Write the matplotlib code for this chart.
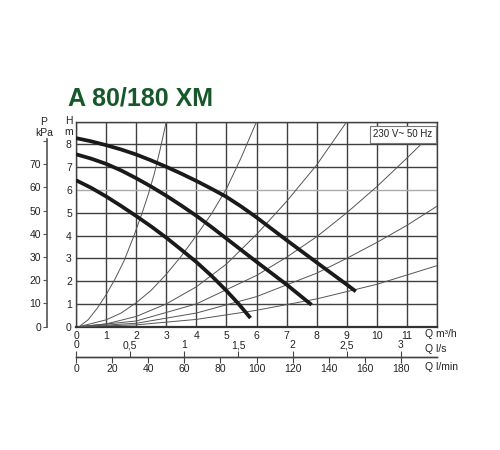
import matplotlib.pyplot as plt

plt.rcParams['font.family'] = ['Liberation Sans', 'DejaVu Sans']

# pump curves (Q m3/h, H m)
q_max = [0, 0.5, 1, 1.5, 2, 2.5, 3, 3.5, 4, 4.5, 5, 5.5, 6, 7, 8, 9, 9.3]
h_max = [8.28, 8.14, 7.97, 7.78, 7.56, 7.3, 7.02, 6.72, 6.4, 6.06, 5.7, 5.27, 4.8,
         3.8, 2.82, 1.85, 1.55]
q_mid = [0, 0.5, 1, 1.5, 2, 2.5, 3, 3.5, 4, 4.5, 5, 6, 7, 7.83]
h_mid = [7.57, 7.38, 7.15, 6.86, 6.52, 6.15, 5.75, 5.32, 4.87, 4.38, 3.87, 2.85,
         1.85, 0.96]
q_min = [0, 0.5, 1, 1.5, 2, 2.5, 3, 3.5, 4, 4.5, 5, 5.4, 5.8]
h_min = [6.43, 6.1, 5.72, 5.3, 4.86, 4.4, 3.91, 3.38, 2.84, 2.24, 1.58, 1.01, 0.38]

# system curves (thin lines)
sys_q = [
    [0.1, 0.4, 0.7, 1.0, 1.3, 1.6, 1.9, 2.2, 2.4, 2.6, 2.8, 3.0],
    [0.1, 1, 1.5, 2, 2.5, 3, 3.5, 4, 4.5, 5, 5.5, 6],
    [0.1, 1, 2, 3, 4, 5, 6, 7, 8, 9],
    [0.1, 2, 4, 6, 7, 8, 9, 10, 11, 11.5, 12],
    [0.1, 2, 4, 6, 8, 9, 10, 11, 12],
    [0.1, 2, 4, 6, 8, 10, 12],
]
sys_h = [
    [0, 0.3, 0.8, 1.4, 2.1, 2.9, 3.9, 5.0, 5.8, 6.7, 7.8, 9.0],
    [0, 0.3, 0.6, 1.05, 1.6, 2.3, 3.1, 4.0, 4.95, 6.05, 7.45, 9.0],
    [0, 0.12, 0.45, 1.0, 1.75, 2.75, 4.05, 5.5, 7.1, 9.0],
    [0, 0.25, 1.0, 2.25, 3.05, 3.95, 5.0, 6.15, 7.4, 8.05, 8.75],
    [0, 0.15, 0.6, 1.32, 2.35, 3.0, 3.7, 4.45, 5.29],
    [0, 0.08, 0.32, 0.72, 1.22, 1.86, 2.68],
]

h_ticks = list(range(10))
h_labels = [str(v) for v in range(9)] + ['']
q_ticks = list(range(13))
q_labels = [str(v) for v in range(12)] + ['']
p_ticks = list(range(0, 90, 10))
p_labels = [str(v) for v in range(0, 80, 10)] + ['']
ls_ticks = [0, 0.5, 1, 1.5, 2, 2.5, 3]
ls_labels = ['0', '0,5', '1', '1,5', '2', '2,5', '3']
lmin_ticks = list(range(0, 200, 20))

W, H = 500, 450
fig = plt.figure(figsize=(5, 4.5), dpi=100)
ax = fig.add_axes([76 / W, 1 - 326.7 / H, 361 / W, 205 / H])

grid_c = '#404040'
ax.set_xlim(0, 12)
ax.set_ylim(0, 9)
ax.set_xticks(q_ticks, q_labels)
ax.set_yticks(h_ticks, h_labels)
ax.tick_params(length=0, labelsize=7.5, colors='#222222', pad=3)
ax.grid(True, color=grid_c, lw=1.0)
for ln in ax.get_ygridlines():
    if abs(ln.get_ydata()[0] - 6) < 1e-6:
        ln.set_color('#aaaaaa')
for s in ax.spines.values():
    s.set_color(grid_c)
    s.set_linewidth(1.0)
ax.spines['bottom'].set_linewidth(1.6)
ax.spines['bottom'].set_color('#333333')

for q, h in zip(sys_q, sys_h):
    ax.plot(q, h, color='#555555', lw=0.7, zorder=3)
for q, h in [(q_max, h_max), (q_mid, h_mid), (q_min, h_min)]:
    ax.plot(q, h, color='#1a1a1a', lw=2.7, solid_capstyle='butt',
            solid_joinstyle='round', zorder=4)

ax.text(10.87, 8.46, '230 V~ 50 Hz', ha='center', va='center', fontsize=7,
        color='#222222', zorder=6,
        bbox=dict(facecolor='white', edgecolor='#777777', lw=0.8, pad=2.5))

# pressure axis in kPa
axp = ax.twinx()
axp.set_ylim(0, 9 * 9.81)
axp.yaxis.tick_left()
axp.set_yticks(p_ticks, p_labels)
for side in ['top', 'bottom', 'right']:
    axp.spines[side].set_visible(False)
axp.spines['left'].set_position(('outward', 21))
axp.spines['left'].set_bounds(0, 81)
axp.spines['left'].set_color('#555555')
axp.spines['left'].set_linewidth(1.2)
axp.tick_params(axis='y', length=3, width=0.8, color='#555555', labelsize=7.5,
                labelcolor='#222222', pad=1)

# flow axes in l/s and l/min
yfrac = -(357 - 326.7) / 205
ax_ls = ax.secondary_xaxis(yfrac, functions=(lambda q: q / 3.6, lambda s: s * 3.6))
ax_ls.set_alignment('top')
ax_ls.set_xticks(ls_ticks, ls_labels)
ax_ls.tick_params(length=4, width=0.8, color='#444444', labelsize=7.5,
                  labelcolor='#222222', pad=1)
ax_ls.spines['top'].set_color('#444444')
ax_ls.spines['top'].set_linewidth(1.0)

ax_lm = ax.secondary_xaxis(yfrac, functions=(lambda q: q * 1000 / 60, lambda m: m * 60 / 1000))
ax_lm.set_xticks(lmin_ticks)
ax_lm.tick_params(length=4, width=0.8, color='#444444', labelsize=7.5,
                  labelcolor='#222222', pad=1)
ax_lm.spines['bottom'].set_color('#444444')
ax_lm.spines['bottom'].set_linewidth(1.0)

# labels
fig.text(425 / W, 1 - 334 / H, 'Q m³/h', fontsize=7.5, va='center', color='#222222')
fig.text(425 / W, 1 - 349 / H, 'Q l/s', fontsize=7.5, va='center', color='#222222')
fig.text(425 / W, 1 - 367 / H, 'Q l/min', fontsize=7.5, va='center', color='#222222')
fig.text(69 / W, 1 - 121 / H, 'H', fontsize=7.5, ha='center', va='center', color='#222222')
fig.text(69 / W, 1 - 132 / H, 'm', fontsize=7.5, ha='center', va='center', color='#222222')
fig.text(44 / W, 1 - 122 / H, 'P', fontsize=7.5, ha='center', va='center', color='#222222')
fig.text(44 / W, 1 - 133 / H, 'kPa', fontsize=7.5, ha='center', va='center', color='#222222')

fig.text(68 / W, 1 - 105 / H, 'A 80/180 XM', fontsize=18, fontweight='bold',
         color='#17582a', ha='left', va='baseline')

fig.savefig('out.png', dpi=100, facecolor='white')
